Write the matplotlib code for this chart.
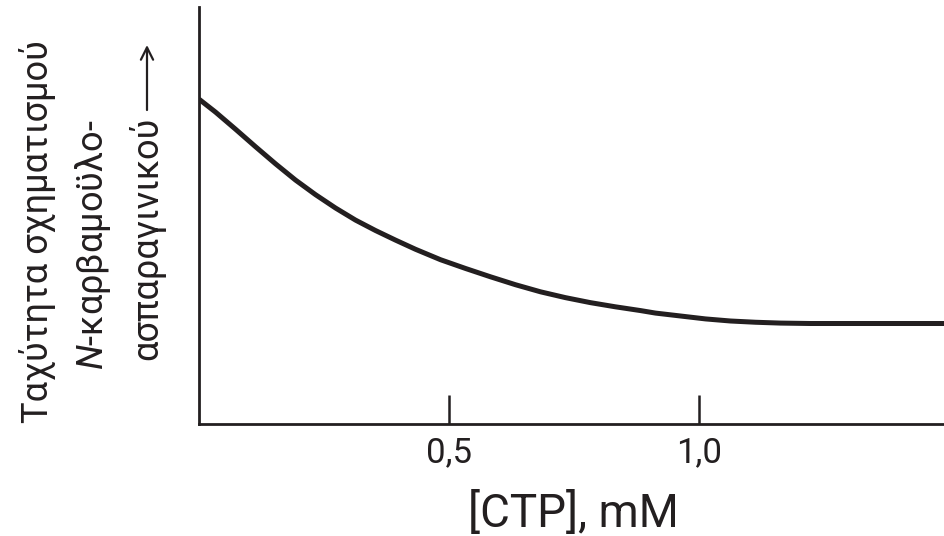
import matplotlib
matplotlib.use("Agg")
import matplotlib.pyplot as plt

# Data (x in mM, y as fraction of the axis height)
ctp_mm = [0.0, 0.033, 0.073, 0.113, 0.153, 0.193, 0.233, 0.273, 0.313, 0.353,
          0.393, 0.433, 0.483, 0.533, 0.583, 0.633, 0.683, 0.733, 0.783, 0.833,
          0.883, 0.913, 0.963, 1.013, 1.063, 1.113, 1.163, 1.223, 1.50]
rate = [0.779, 0.748, 0.707, 0.665, 0.624, 0.585, 0.550, 0.518, 0.489, 0.464,
        0.441, 0.419, 0.394, 0.373, 0.353, 0.334, 0.317, 0.303, 0.291, 0.281,
        0.272, 0.266, 0.259, 0.252, 0.247, 0.244, 0.242, 0.241, 0.241]
tick_pos = [0.5, 1.0]
tick_labels = ["0,5", "1,0"]

ylabel_lines = ["Ταχύτητα σχηματισμού", "$\\it{N}$-καρβαμοϋλο-", "ασπαραγινικού"]

INK = "#231f20"
FONT = "Roboto"
W, H = 944, 536


def px(x, y):
    """pixel position (from top-left) -> figure fraction"""
    return x / W, 1 - y / H


def main():
    plt.rcParams["font.family"] = [FONT, "DejaVu Sans"]
    plt.rcParams["mathtext.fontset"] = "custom"
    plt.rcParams["mathtext.it"] = f"{FONT}:italic"

    fig = plt.figure(figsize=(W / 100, H / 100), dpi=100)
    ax = fig.add_axes([199 / W, 112 / H, (W - 199) / W, (424 - 7) / H])

    ax.plot(ctp_mm, rate, color=INK, lw=3.6, solid_capstyle="butt", solid_joinstyle="round")
    ax.set_xlim(0, 1.49)
    ax.set_ylim(0, 1)

    for side in ["top", "right"]:
        ax.spines[side].set_visible(False)
    for side in ["left", "bottom"]:
        ax.spines[side].set_linewidth(2.0)
        ax.spines[side].set_color(INK)

    ax.set_yticks([])
    ax.set_xticks(tick_pos)
    ax.set_xticklabels(tick_labels)
    ax.tick_params(axis="x", direction="in", length=21, width=1.8, color=INK,
                   labelsize=25, labelcolor=INK, pad=9)

    ax.set_xlabel("[CTP], mM", fontsize=33, color=INK, va="baseline")
    ax.xaxis.set_label_coords(*px(573, 527), transform=fig.transFigure)

    # y label, three rotated lines
    for text, (bx, cy) in zip(ylabel_lines, [(48, 232), (103, 245), (157, 238)]):
        fx, fy = px(bx, cy)
        fig.text(fx, fy, text, rotation=90, rotation_mode="anchor", ha="center",
                 va="baseline", fontsize=26, color=INK)

    ax.annotate("", xy=px(147, 45), xytext=px(147, 110), xycoords="figure fraction",
                textcoords="figure fraction",
                arrowprops=dict(arrowstyle="->", lw=1.6, color=INK, mutation_scale=22,
                                shrinkA=0, shrinkB=0))

    fig.savefig("out.png", dpi=100)


if __name__ == "__main__":
    main()
